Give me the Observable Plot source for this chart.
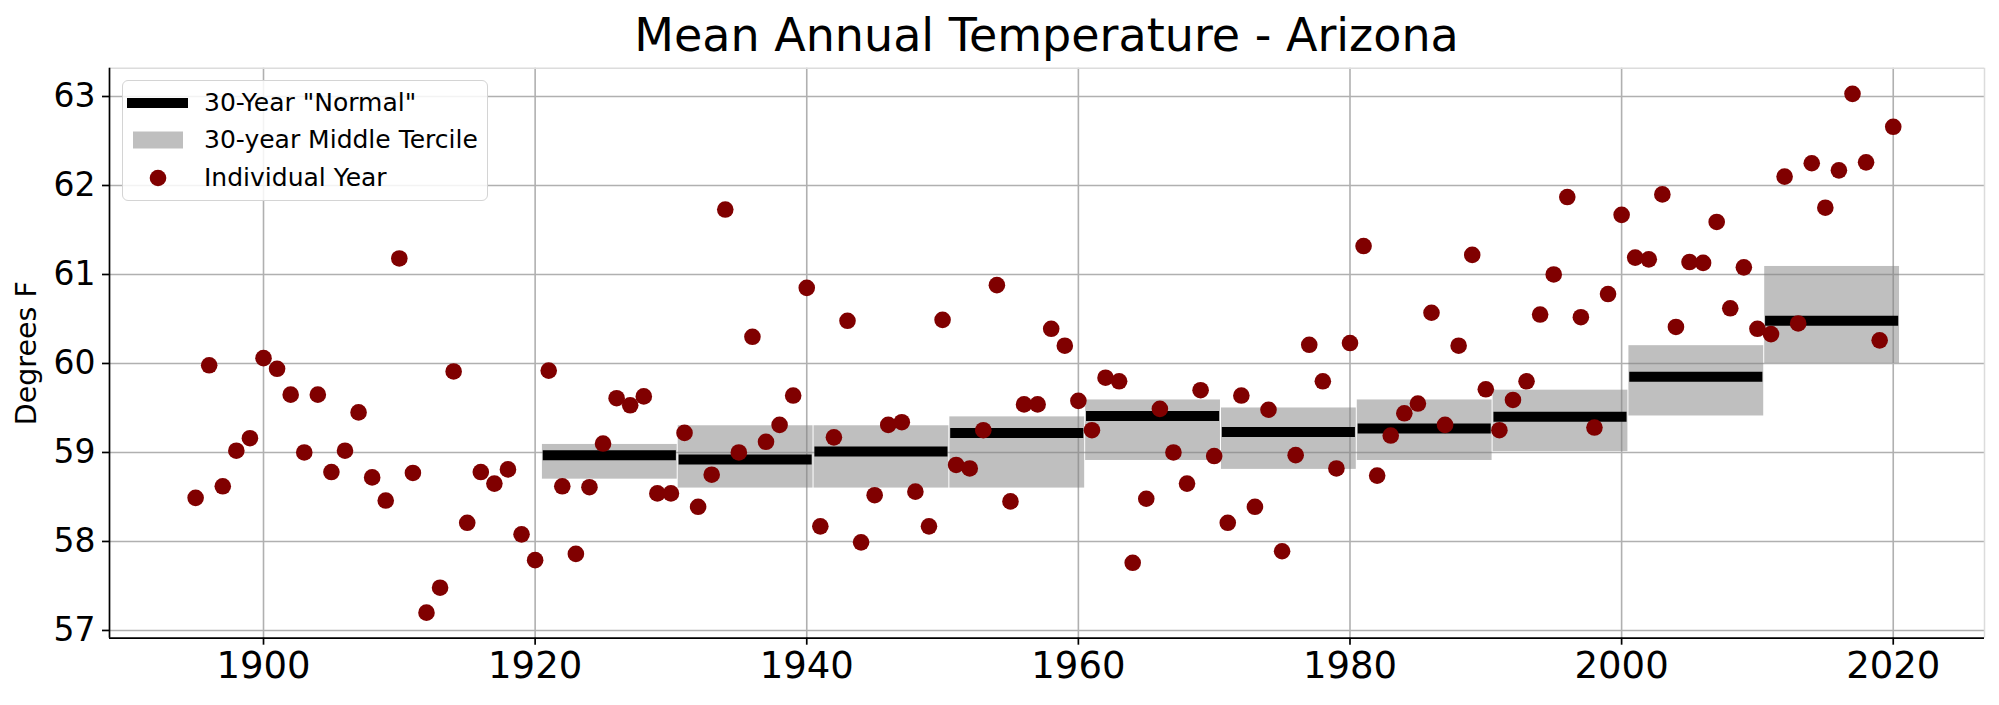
<!DOCTYPE html>
<html>
<head>
<meta charset="utf-8">
<script src="https://cdn.jsdelivr.net/npm/d3@7"></script>
<script src="https://cdn.jsdelivr.net/npm/@observablehq/plot@0.6"></script>
<style>
  body { margin: 0; background: #fff; font-family: "DejaVu Sans", sans-serif; }
  #wrap { position: relative; width: 1999px; height: 705px; overflow: hidden; background: #fff; }
  #title { height: 60px; box-sizing: border-box; padding-top: 13px; margin-left: 109px; width: 1875px;
           text-align: center; font-size: 46px; line-height: 45px; color: #000; white-space: nowrap; }
  #legend { position: absolute; left: 122px; top: 80px; width: 366px; height: 121px; box-sizing: border-box;
            border: 1.5px solid #d4d4d4; border-radius: 6px; background: rgba(255,255,255,0.85); }
  .row { position: absolute; left: 0; height: 30px; width: 100%; }
  .lbl { position: absolute; left: 81px; top: 0; font-size: 25px; line-height: 30px; color: #000; white-space: nowrap; }
  .sw { position: absolute; left: 0; top: 0; }
</style>
</head>
<body>
<div id="wrap">
  <div id="title">Mean Annual Temperature - Arizona</div>
  <div id="chart"></div>
  <div id="legend">
    <div class="row" style="top:7px">
      <svg class="sw" width="80" height="30"><line x1="4" x2="65" y1="15" y2="15" stroke="#000" stroke-width="10"/></svg>
      <div class="lbl">30-Year "Normal"</div>
    </div>
    <div class="row" style="top:44px">
      <svg class="sw" width="80" height="30"><rect x="10" y="6.5" width="50" height="17" fill="#808080" fill-opacity="0.5"/></svg>
      <div class="lbl">30-year Middle Tercile</div>
    </div>
    <div class="row" style="top:82px">
      <svg class="sw" width="80" height="30"><circle cx="35" cy="15" r="8.3" fill="#800000"/></svg>
      <div class="lbl">Individual Year</div>
    </div>
  </div>
</div>
<script>
const years = [1895,1896,1897,1898,1899,1900,1901,1902,1903,1904,1905,1906,1907,1908,1909,
  1910,1911,1912,1913,1914,1915,1916,1917,1918,1919,1920,1921,1922,1923,1924,1925,1926,1927,1928,1929,
  1930,1931,1932,1933,1934,1935,1936,1937,1938,1939,1940,1941,1942,1943,1944,1945,1946,1947,1948,1949,
  1950,1951,1952,1953,1954,1955,1956,1957,1958,1959,1960,1961,1962,1963,1964,1965,1966,1967,1968,1969,
  1970,1971,1972,1973,1974,1975,1976,1977,1978,1979,1980,1981,1982,1983,1984,1985,1986,1987,1988,1989,
  1990,1991,1992,1993,1994,1995,1996,1997,1998,1999,2000,2001,2002,2003,2004,2005,2006,2007,2008,2009,
  2010,2011,2012,2013,2014,2015,2016,2017,2018,2019,2020];
const temps = [58.49,59.98,58.62,59.02,59.16,60.06,59.94,59.65,59.00,59.65,58.78,59.02,59.45,58.72,58.46,
  61.18,58.77,57.20,57.48,59.91,58.21,58.78,58.65,58.81,58.08,57.79,59.92,58.62,57.86,58.61,59.10,59.61,59.53,59.63,58.54,
  58.54,59.22,58.39,58.75,61.73,59.00,60.30,59.12,59.31,59.64,60.85,58.17,59.17,60.48,57.99,58.52,59.31,59.34,58.56,58.17,
  60.49,58.86,58.82,59.25,60.88,58.45,59.54,59.54,60.39,60.20,59.58,59.25,59.84,59.80,57.76,58.48,59.49,59.00,58.65,59.70,
  58.96,58.21,59.64,58.39,59.48,57.89,58.97,60.21,59.80,58.82,60.23,61.32,58.74,59.19,59.44,59.55,60.57,59.31,60.20,61.22,
  59.71,59.25,59.59,59.80,60.55,61.00,61.87,60.52,59.28,60.78,61.67,61.19,61.17,61.90,60.41,61.14,61.13,61.59,60.62,61.08,
  60.39,60.33,62.10,60.45,62.25,61.75,62.17,63.03,62.26,60.26,62.66];

const periodStart = [1921,1931,1941,1951,1961,1971,1981,1991,2001,2011];
const periodEnd   = [1930,1940,1950,1960,1970,1980,1990,2000,2010,2020];
const normals     = [58.97,58.92,59.01,59.22,59.41,59.23,59.27,59.40,59.85,60.48];
const tercileLow  = [58.70,58.60,58.60,58.60,58.91,58.81,58.91,59.01,59.41,60.00];
const tercileHigh = [59.09,59.30,59.30,59.40,59.59,59.50,59.59,59.70,60.20,61.09];

const xTicks = [1900,1920,1940,1960,1980,2000,2020];
const yTicks = [57,58,59,60,61,62,63];
const xDomain = [1888.66, 2026.72];
const yDomain = [56.913, 63.318];

const points = years.map((y, i) => ({year: y, temp: temps[i]}));
const periods = periodStart.map((s, i) => ({
  x1: s - 0.5, x2: periodEnd[i] + 0.5, lo: tercileLow[i], hi: tercileHigh[i], normal: normals[i]
}));

const chart = Plot.plot({
  width: 1999,
  height: 645,
  marginTop: 7.7,
  marginBottom: 67.3,
  marginLeft: 109,
  marginRight: 15,
  style: {fontFamily: "DejaVu Sans", background: "white", color: "black", overflow: "visible"},
  x: {domain: xDomain, label: null},
  y: {domain: yDomain, label: null},
  marks: [
    Plot.gridX(xTicks, {stroke: "#b0b0b0", strokeOpacity: 1, strokeWidth: 1.6}),
    Plot.gridY(yTicks, {stroke: "#b0b0b0", strokeOpacity: 1, strokeWidth: 1.6}),
    Plot.rect(periods, {x1: "x1", x2: "x2", y1: "lo", y2: "hi", fill: "#808080", fillOpacity: 0.5, insetLeft: 0.5, insetRight: 0.5}),
    Plot.ruleY(periods, {x1: d => d.x1 + 0.1, x2: d => d.x2 - 0.1, y: "normal", stroke: "#000", strokeWidth: 10}),
    Plot.dot(points, {x: "year", y: "temp", r: 8.3, fill: "#800000", stroke: null}),
    Plot.ruleX([xDomain[1]], {stroke: "#dcdcdc", strokeWidth: 1.5}),
    Plot.ruleY([yDomain[1]], {stroke: "#dcdcdc", strokeWidth: 1.5}),
    Plot.ruleX([xDomain[0]], {stroke: "#000", strokeWidth: 1.7}),
    Plot.ruleY([yDomain[0]], {stroke: "#000", strokeWidth: 1.7}),
    Plot.axisX(xTicks, {tickSize: 7, tickPadding: 7, fontSize: 37, strokeWidth: 1.7, tickFormat: d => String(d), label: null}),
    Plot.axisY(yTicks, {tickSize: 7, tickPadding: 7, fontSize: 33, strokeWidth: 1.7, tickFormat: d => String(d), label: null}),
    Plot.text(["Degrees F"], {frameAnchor: "left", textAnchor: "middle", lineAnchor: "middle", dx: -83, rotate: -90, fontSize: 28.5, fill: "#000"})
  ]
});
document.getElementById("chart").appendChild(chart);
</script>
</body>
</html>
